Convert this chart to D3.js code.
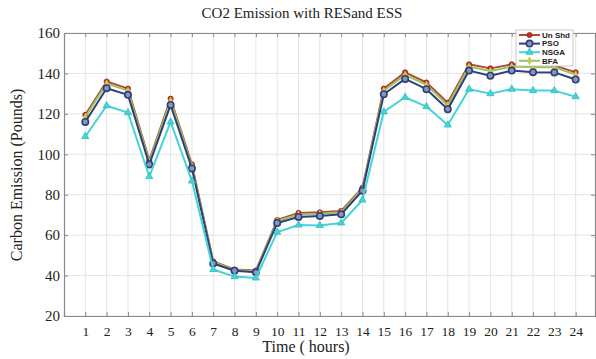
<!DOCTYPE html>
<html>
<head>
<meta charset="utf-8">
<script src="https://cdn.jsdelivr.net/npm/d3@7"></script>
<style>
  body { margin: 0; background: #fff; }
  svg { display: block; }
</style>
</head>
<body>
<div id="chart"></div>
<script>
// hours 1..24
var hours = d3.range(1, 25);
var unShd = [119.5, 136, 132.5, 97, 127.5, 95, 47, 43, 42.5, 67.5, 71, 71.3, 72, 83.5, 132.5, 140.5, 135.5, 125.5, 144.5, 142.5, 144.5, 144, 144, 140.5];
var pso   = [116, 132.7, 129.4, 95, 124.4, 93, 46, 42.4, 41.6, 66, 69, 69.5, 70.3, 82, 129.7, 137.3, 132.2, 122.3, 141.4, 138.9, 141.4, 140.6, 140.5, 137];
var nsga  = [108.8, 124, 120.6, 89, 116, 86.8, 43, 39.5, 38.8, 61.5, 65, 64.8, 66, 77.4, 121, 128.2, 123.6, 114.5, 132.2, 130, 132.2, 131.5, 131.5, 128.5];
var bfa   = [118.5, 135, 131.5, 96.3, 126.5, 94.2, 46.6, 42.8, 42.1, 67, 70.2, 70.6, 71.3, 83, 131.5, 139.3, 134.4, 124.3, 143.4, 141.2, 143.4, 143, 143, 139.5];
var yTicks = [20, 40, 60, 80, 100, 120, 140, 160];

var series = [
  {name: "Un Shd", values: unShd, line: "#b04a3c", fill: "#d02a20", marker: "circle"},
  {name: "BFA",    values: bfa,   line: "#9cc45a", fill: "#d8c84a", marker: "diamond"},
  {name: "PSO",    values: pso,   line: "#2e3f7c", fill: "#8a96b8", marker: "ring"},
  {name: "NSGA",   values: nsga,  line: "#45d3d6", fill: "#45d3d6", marker: "triangle"}
];
var legendOrder = ["Un Shd", "PSO", "NSGA", "BFA"];

var W = 596, H = 359;

var svg = d3.select('#chart').append('svg')
  .attr('width', W)
  .attr('height', H)
  .style('font-family', '"Liberation Serif", "DejaVu Serif", serif');

var x = d3.scaleLinear().domain([0, 25]).range([64, 597]);
var y = d3.scaleLinear().domain([20, 160]).range([316, 33]);

// grid
var g = svg.append('g');
g.selectAll('.vgrid').data(hours).enter().append('line')
  .attr('x1', function(d) { return x(d); })
  .attr('x2', function(d) { return x(d); })
  .attr('y1', y(20)).attr('y2', y(160))
  .attr('stroke', '#e4e4e4').attr('stroke-width', 1);
g.selectAll('.hgrid').data(yTicks).enter().append('line')
  .attr('x1', x(0)).attr('x2', W)
  .attr('y1', function(d) { return y(d); })
  .attr('y2', function(d) { return y(d); })
  .attr('stroke', '#e4e4e4').attr('stroke-width', 1);

// axes
var axisColor = '#8a8a8a';
var xAxis = svg.append('g')
  .attr('transform', 'translate(0,' + y(20) + ')')
  .call(d3.axisBottom(x).tickValues(hours).tickSize(-4).tickPadding(12));
var xTop = svg.append('g')
  .attr('transform', 'translate(0,' + y(160) + ')')
  .call(d3.axisTop(x).tickValues(hours).tickSize(-4).tickFormat(''));
var yAxis = svg.append('g')
  .attr('transform', 'translate(' + x(0) + ',0)')
  .call(d3.axisLeft(y).tickValues(yTicks).tickSize(-4).tickPadding(4));
var yRight = svg.append('g')
  .attr('transform', 'translate(' + (W - 1) + ',0)')
  .call(d3.axisRight(y).tickValues(yTicks).tickSize(-4).tickFormat(''));

[xAxis, xTop, yAxis, yRight].forEach(function(a) {
  a.selectAll('path').attr('stroke', axisColor).attr('stroke-width', 1.2);
  a.selectAll('line').attr('stroke', axisColor);
  a.selectAll('text')
    .attr('fill', '#222')
    .style('font-size', '15px')
    .style('font-family', '"Liberation Serif", "DejaVu Serif", serif');
});
xAxis.selectAll('.tick text').attr('dy', '0.6em').style('font-size', '13.5px');

// lines
var line = d3.line()
  .x(function(d, i) { return x(hours[i]); })
  .y(function(d) { return y(d); });

function drawMarker(sel, type, s) {
  if (type === 'circle') {
    sel.append('circle').attr('r', 2.6).attr('fill', s.fill).attr('stroke', '#a02018').attr('stroke-width', 0.8);
  } else if (type === 'ring') {
    sel.append('circle').attr('r', 3.2).attr('fill', s.fill).attr('stroke', s.line).attr('stroke-width', 1.6);
  } else if (type === 'triangle') {
    sel.append('path').attr('d', d3.symbol().type(d3.symbolTriangle).size(22)())
      .attr('fill', s.fill).attr('stroke', '#30bcc0').attr('stroke-width', 0.8);
  } else {
    sel.append('path').attr('d', d3.symbol().type(d3.symbolDiamond).size(16)())
      .attr('fill', s.fill).attr('stroke', s.line).attr('stroke-width', 0.6);
  }
}

series.forEach(function(s) {
  svg.append('path')
    .datum(s.values)
    .attr('fill', 'none')
    .attr('stroke', s.line)
    .attr('stroke-width', 2)
    .attr('stroke-linejoin', 'round')
    .attr('d', line);
  svg.selectAll(null).data(s.values).enter().append('g')
    .attr('transform', function(d, i) { return 'translate(' + x(hours[i]) + ',' + y(d) + ')'; })
    .each(function() { drawMarker(d3.select(this), s.marker, s); });
});

// legend
var lg = svg.append('g').attr('transform', 'translate(516,30)');
lg.append('rect')
  .attr('width', 57).attr('height', 36)
  .attr('fill', '#fff').attr('stroke', '#bbb').attr('stroke-width', 0.8);
legendOrder.forEach(function(name, i) {
  var s = series.filter(function(d) { return d.name === name; })[0];
  var row = lg.append('g').attr('transform', 'translate(0,' + (5 + i * 8.6) + ')');
  row.append('line').attr('x1', 3).attr('x2', 24).attr('y1', 0).attr('y2', 0)
    .attr('stroke', s.line).attr('stroke-width', 2);
  drawMarker(row.append('g').attr('transform', 'translate(13.5,0)'), s.marker, s);
  row.append('text')
    .attr('x', 26).attr('y', 0).attr('dy', '0.35em')
    .style('font-family', '"Liberation Sans", Arial, sans-serif')
    .style('font-size', '8px').style('font-weight', 'bold')
    .attr('fill', '#222')
    .text(name);
});

// title and labels
svg.append('text')
  .attr('x', 302).attr('y', 18)
  .attr('text-anchor', 'middle')
  .style('font-size', '15px')
  .attr('fill', '#222')
  .text('CO2 Emission with RESand ESS');

svg.append('text')
  .attr('transform', 'translate(22,' + 175 + ') rotate(-90)')
  .attr('text-anchor', 'middle')
  .style('font-size', '16px')
  .attr('fill', '#222')
  .text('Carbon Emission (Pounds)');

svg.append('text')
  .attr('x', 306).attr('y', 352)
  .attr('text-anchor', 'middle')
  .style('font-size', '16px')
  .attr('fill', '#222')
  .text('Time ( hours)');
</script>
</body>
</html>
